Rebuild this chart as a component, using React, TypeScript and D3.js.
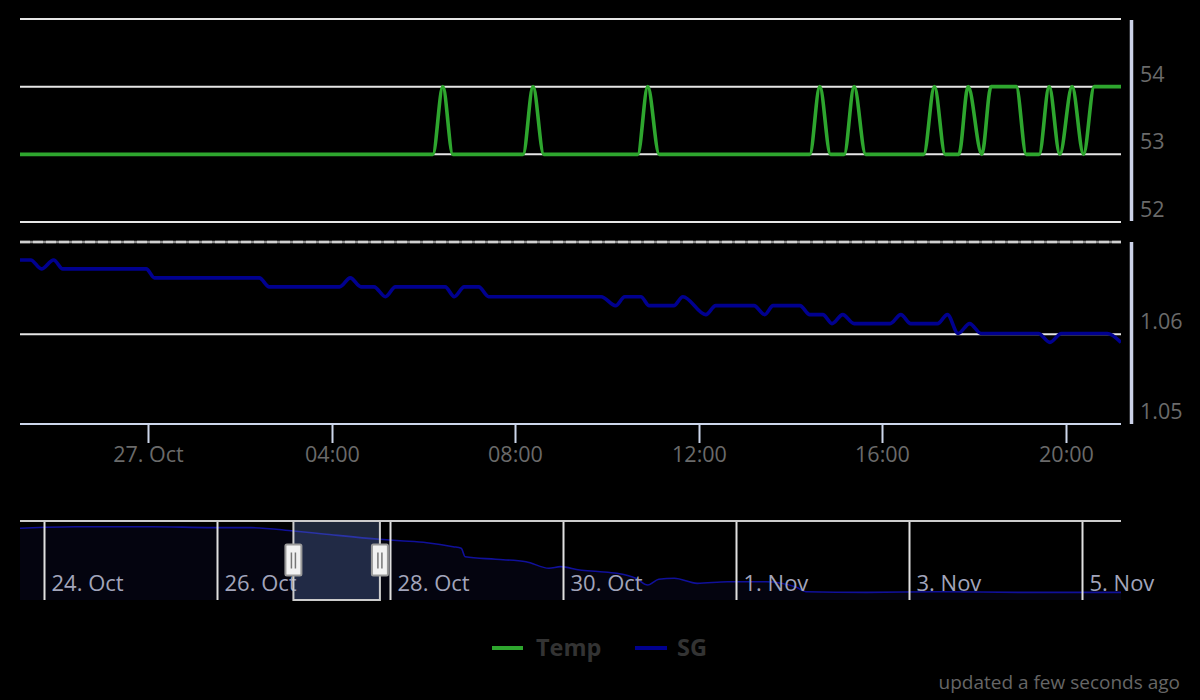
import * as d3 from 'd3';

// ---- data ----
const parseT = d3.utcParse('%Y-%m-%d %H:%M');

const tempTimes = [
  '2017-10-26 21:12', '2017-10-27 06:12', '2017-10-27 06:25', '2017-10-27 06:38',
  '2017-10-27 08:10', '2017-10-27 08:23', '2017-10-27 08:37',
  '2017-10-27 10:40', '2017-10-27 10:53', '2017-10-27 11:08',
  '2017-10-27 14:25', '2017-10-27 14:38', '2017-10-27 14:52',
  '2017-10-27 15:10', '2017-10-27 15:23', '2017-10-27 15:38',
  '2017-10-27 16:54', '2017-10-27 17:08', '2017-10-27 17:22',
  '2017-10-27 17:40', '2017-10-27 17:52', '2017-10-27 18:10',
  '2017-10-27 18:22', '2017-10-27 18:55', '2017-10-27 19:08', '2017-10-27 19:25',
  '2017-10-27 19:38', '2017-10-27 19:52', '2017-10-27 20:08', '2017-10-27 20:23',
  '2017-10-27 20:37', '2017-10-27 21:12',
];
const tempValues = [
  53, 53, 54, 53,
  53, 54, 53,
  53, 54, 53,
  53, 54, 53,
  53, 54, 53,
  53, 54, 53,
  53, 54, 53,
  54, 54, 53, 53,
  54, 53, 54, 53,
  54, 54,
];

const sgTimes = [
  '2017-10-26 21:12', '2017-10-26 21:26', '2017-10-26 21:40', '2017-10-26 21:56',
  '2017-10-26 22:08', '2017-10-26 23:57', '2017-10-27 00:08', '2017-10-27 02:25',
  '2017-10-27 02:38', '2017-10-27 04:10', '2017-10-27 04:24', '2017-10-27 04:38',
  '2017-10-27 04:55', '2017-10-27 05:10', '2017-10-27 05:23', '2017-10-27 06:28',
  '2017-10-27 06:40', '2017-10-27 06:53', '2017-10-27 07:12', '2017-10-27 07:25',
  '2017-10-27 09:52', '2017-10-27 10:11', '2017-10-27 10:23', '2017-10-27 10:44',
  '2017-10-27 10:55', '2017-10-27 11:27', '2017-10-27 11:39', '2017-10-27 12:09',
  '2017-10-27 12:22', '2017-10-27 13:12', '2017-10-27 13:26', '2017-10-27 13:37',
  '2017-10-27 14:12', '2017-10-27 14:25', '2017-10-27 14:42', '2017-10-27 14:54',
  '2017-10-27 15:08', '2017-10-27 15:23', '2017-10-27 16:10', '2017-10-27 16:24',
  '2017-10-27 16:37', '2017-10-27 17:12', '2017-10-27 17:25', '2017-10-27 17:39',
  '2017-10-27 17:54', '2017-10-27 18:09', '2017-10-27 19:24', '2017-10-27 19:39',
  '2017-10-27 19:54', '2017-10-27 20:54', '2017-10-27 21:12',
];
const sgValues = [
  1.0683, 1.0683, 1.0673, 1.0683,
  1.0673, 1.0673, 1.0663, 1.0663,
  1.0653, 1.0653, 1.0663, 1.0653,
  1.0653, 1.0642, 1.0653, 1.0653,
  1.0642, 1.0653, 1.0653, 1.0642,
  1.0642, 1.0632, 1.0642, 1.0642,
  1.0632, 1.0632, 1.0642, 1.0622,
  1.0632, 1.0632, 1.0622, 1.0632,
  1.0632, 1.0622, 1.0622, 1.0612,
  1.0622, 1.0612, 1.0612, 1.0622,
  1.0612, 1.0612, 1.0622, 1.0601,
  1.0612, 1.0601, 1.0601, 1.0591,
  1.0601, 1.0601, 1.0591,
];

// whole fermentation, shown in the navigator
const navTimes = [
  '2017-10-23 17:20', '2017-10-24 00:17', '2017-10-24 08:43', '2017-10-25 05:54',
  '2017-10-25 22:48', '2017-10-26 09:29', '2017-10-26 21:12', '2017-10-27 05:32',
  '2017-10-27 21:12', '2017-10-28 02:48', '2017-10-28 10:13', '2017-10-28 17:31',
  '2017-10-28 19:45', '2017-10-28 20:51', '2017-10-29 05:18', '2017-10-29 13:45',
  '2017-10-29 20:07', '2017-10-29 23:20', '2017-10-30 04:37', '2017-10-30 09:41',
  '2017-10-30 14:57', '2017-10-30 20:13', '2017-10-30 23:31', '2017-10-31 02:34',
  '2017-10-31 06:52', '2017-10-31 13:14', '2017-10-31 21:42', '2017-11-01 08:13',
  '2017-11-01 16:48', '2017-11-01 19:26', '2017-11-02 11:54', '2017-11-03 08:57',
  '2017-11-04 06:16', '2017-11-05 10:50',
];
const navValues = [
  1.0713, 1.0724, 1.0731, 1.0731,
  1.0720, 1.0720, 1.0683, 1.0650,
  1.0591, 1.0575, 1.0553, 1.0509,
  1.0491, 1.0398, 1.0369, 1.0342,
  1.0269, 1.0287, 1.0250, 1.0233,
  1.0213, 1.0158, 1.0083, 1.0147,
  1.0158, 1.0102, 1.0120, 1.0120,
  1.0058, 1.0009, 1.0002, 1.0009,
  1.0002, 1.0002,
];

const mainRange = ['2017-10-26 21:12', '2017-10-27 21:12'];
const navRange = ['2017-10-23 17:20', '2017-11-05 10:50'];
const xTicks = ['2017-10-27 00:00', '2017-10-27 04:00', '2017-10-27 08:00', '2017-10-27 12:00', '2017-10-27 16:00', '2017-10-27 20:00'];
const navTicks = ['2017-10-24 00:00', '2017-10-26 00:00', '2017-10-28 00:00', '2017-10-30 00:00', '2017-11-01 00:00', '2017-11-03 00:00', '2017-11-05 00:00'];
const tempTicks = [52, 53, 54, 55];
const sgTicks = [1.05, 1.06];
const tempDomain = [52, 55];
const sgDomain = [1.05, 1.0703];
const navDomain = [0.9917, 1.0794];

// ---- layout ----
const W = 1200;
const H = 700;
const left = 20;
const right = 1121;
const topPane = { y0: 19, y1: 222 };
const botPane = { y0: 242, y1: 424 };
const nav = { y0: 521, y1: 600 };
const FONT = '"Open Sans", "Noto Sans", sans-serif';
const TEMP_COLOR = '#2ea62e';
const SG_COLOR = '#00008f';
const LABEL = '#6a6a6a';

const dayFmt = d3.utcFormat('%-d. %b');
const hourFmt = d3.utcFormat('%H:%M');

export default function App() {
  const x = d3.scaleUtc().domain(mainRange.map(s => parseT(s) as Date)).range([left, right]);
  const xNav = d3.scaleUtc().domain(navRange.map(s => parseT(s) as Date)).range([left, right]);
  const yTemp = d3.scaleLinear().domain(tempDomain).range([topPane.y1, topPane.y0]);
  const ySg = d3.scaleLinear().domain(sgDomain).range([botPane.y1, botPane.y0]);
  const yNav = d3.scaleLinear().domain(navDomain).range([nav.y1, nav.y0]);

  const temp = tempTimes.map((t, i) => ({ t: parseT(t) as Date, v: tempValues[i] }));
  const sg = sgTimes.map((t, i) => ({ t: parseT(t) as Date, v: sgValues[i] }));
  const navData = navTimes.map((t, i) => ({ t: parseT(t) as Date, v: navValues[i] }));

  const tempLine = d3.line<{ t: Date; v: number }>()
    .x(d => x(d.t)).y(d => yTemp(d.v)).curve(d3.curveMonotoneX);
  const sgLine = d3.line<{ t: Date; v: number }>()
    .x(d => x(d.t)).y(d => ySg(d.v)).curve(d3.curveMonotoneX);
  const navLine = d3.line<{ t: Date; v: number }>()
    .x(d => xNav(d.t)).y(d => yNav(d.v)).curve(d3.curveMonotoneX);
  const navArea = d3.area<{ t: Date; v: number }>()
    .x(d => xNav(d.t)).y0(nav.y1).y1(d => yNav(d.v)).curve(d3.curveMonotoneX);

  const selL = xNav(parseT(mainRange[0]) as Date);
  const selR = xNav(parseT(mainRange[1]) as Date);
  const navMid = (nav.y0 + nav.y1) / 2;

  const handle = (cx: number) => (
    <g key={cx}>
      <rect x={cx - 8} y={navMid - 16} width={16} height={31} rx={1.5}
        fill="#f2f2f2" stroke="#999" strokeWidth={2} />
      <line x1={cx - 2} x2={cx - 2} y1={navMid - 8} y2={navMid + 8} stroke="#777" strokeWidth={1.5} />
      <line x1={cx + 2} x2={cx + 2} y1={navMid - 8} y2={navMid + 8} stroke="#777" strokeWidth={1.5} />
    </g>
  );

  return (
    <svg width={W} height={H} style={{ position: 'absolute', left: 0, top: 0, background: '#000' }}
      fontFamily={FONT}>
      <rect width={W} height={H} fill="#000" />
      <defs>
        <clipPath id="plot"><rect x={left} y={0} width={right - left} height={430} /></clipPath>
      </defs>

      {/* top pane: temperature */}
      {tempTicks.map(v => (
        <line key={v} x1={left} x2={right} y1={yTemp(v)} y2={yTemp(v)} stroke="#e6e6e6" strokeWidth={2} />
      ))}
      {tempTicks.slice(0, -1).map(v => (
        <text key={v} x={1140} y={yTemp(v) - 5} fill={LABEL} fontSize={21.5}>{v}</text>
      ))}
      <line x1={1131.5} x2={1131.5} y1={topPane.y0 + 1} y2={topPane.y1 - 1} stroke="#ccd2e8" strokeWidth={3.5} />

      {/* bottom pane: SG */}
      <line x1={left} x2={right} y1={botPane.y0} y2={botPane.y0} stroke="#8c8c8c" strokeWidth={2.5} />
      <line x1={left} x2={right} y1={botPane.y0} y2={botPane.y0} stroke="#d0d0d0" strokeWidth={2.5} strokeDasharray="10 3" />
      {sgTicks.map(v => (
        <line key={v} x1={left} x2={right} y1={ySg(v)} y2={ySg(v)} stroke="#e6e6e6" strokeWidth={2} />
      ))}
      {sgTicks.map(v => (
        <text key={v} x={1140} y={ySg(v) - 5} fill={LABEL} fontSize={21.5}>{v.toFixed(2)}</text>
      ))}
      <line x1={1131.5} x2={1131.5} y1={botPane.y0} y2={botPane.y1} stroke="#ccd2e8" strokeWidth={3.5} />

      {/* x axis */}
      <line x1={left} x2={right} y1={botPane.y1} y2={botPane.y1} stroke="#ccd6eb" strokeWidth={2} />
      {xTicks.map(s => {
        const d = parseT(s) as Date;
        const px = Math.round(x(d)) + 0.5;
        return (
          <g key={s}>
            <line x1={px} x2={px} y1={botPane.y1} y2={botPane.y1 + 19} stroke="#ccd6eb" strokeWidth={2} />
            <text x={px} y={462} textAnchor="middle" fill={LABEL} fontSize={21.5}>
              {d.getUTCHours() === 0 ? dayFmt(d) : hourFmt(d)}
            </text>
          </g>
        );
      })}

      {/* series */}
      <g clipPath="url(#plot)">
        <path d={tempLine(temp) ?? ''} fill="none" stroke={TEMP_COLOR} strokeWidth={3.6} strokeLinejoin="round" />
        <path d={sgLine(sg) ?? ''} fill="none" stroke={SG_COLOR} strokeWidth={3.6} strokeLinejoin="round" />
      </g>

      {/* navigator */}
      <path d={navArea(navData) ?? ''} fill="rgba(40,40,170,0.09)" />
      <path d={navLine(navData) ?? ''} fill="none" stroke="#10109a" strokeWidth={1.6} />
      {navTicks.map(s => {
        const d = parseT(s) as Date;
        const px = Math.round(xNav(d)) + 0.5;
        return (
          <g key={s}>
            <line x1={px} x2={px} y1={nav.y0} y2={nav.y1} stroke="#e0e0e0" strokeWidth={2} />
            <text x={px + 7} y={591} fill="#a2a5bb" fontSize={22}>{dayFmt(d)}</text>
          </g>
        );
      })}
      <rect x={selL} y={nav.y0} width={selR - selL} height={nav.y1 - nav.y0} fill="rgba(102,133,194,0.3)" />
      <line x1={left} x2={right} y1={nav.y0} y2={nav.y0} stroke="#cccccc" strokeWidth={2} />
      <path d={`M${selL},${nav.y0}V${nav.y1}H${selR}V${nav.y0}`} fill="none" stroke="#cccccc" strokeWidth={2} />
      {handle(selL)}
      {handle(selR)}

      {/* legend */}
      <line x1={492} x2={523} y1={648} y2={648} stroke={TEMP_COLOR} strokeWidth={4} />
      <text x={536} y={656} fill="#333" fontSize={23.5} fontWeight="bold">Temp</text>
      <line x1={635} x2={667} y1={648} y2={648} stroke={SG_COLOR} strokeWidth={4} />
      <text x={677} y={656} fill="#333" fontSize={23.5} fontWeight="bold">SG</text>

      <text x={1180} y={689} textAnchor="end" fill="#666" fontSize={19}>updated a few seconds ago</text>
    </svg>
  );
}
